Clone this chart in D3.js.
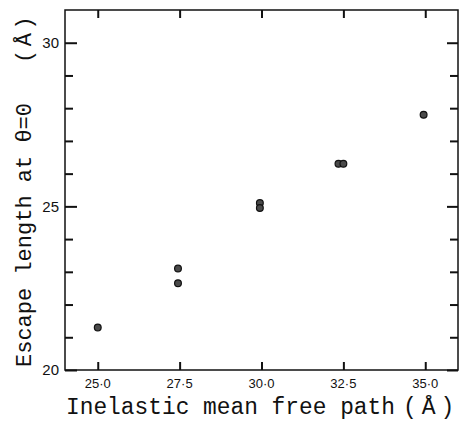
<!DOCTYPE html>
<html lang="en">
<head>
    <meta charset="UTF-8">
    <title>Escape length vs inelastic mean free path</title>
    <script src="https://cdnjs.cloudflare.com/ajax/libs/d3/7.8.5/d3.min.js"></script>
    <style>
        body {
            margin: 0;
            background-color: #ffffff;
            overflow: hidden;
        }
        .tick-label {
            font-family: 'Liberation Sans', Arial, sans-serif;
            fill: #111;
        }
        .axis-title {
            font-family: 'Liberation Mono', 'DejaVu Sans Mono', monospace;
            fill: #111;
        }
    </style>
</head>
<body>
    <div id="chart"></div>

    <script>
        // data
        const imfp = [25.0, 27.45, 27.45, 29.95, 29.95, 32.35, 32.5, 34.95];
        const escapeLength = [21.3, 23.1, 22.65, 25.1, 24.95, 26.3, 26.3, 27.8];

        const xTicks = [25, 27.5, 30, 32.5, 35];
        const xTickLabels = ["25·0", "27·5", "30·0", "32·5", "35·0"];
        const yMajorTicks = [20, 25, 30];
        const yMinorTicks = [21, 22, 23, 24, 26, 27, 28, 29];

        const width = 459, height = 425;
        const plotLeft = 65, plotRight = 458, plotTop = 10, plotBottom = 370;

        const svg = d3.select("#chart")
            .append("svg")
            .attr("width", width)
            .attr("height", height);

        const x = d3.scaleLinear().domain([24, 36]).range([plotLeft, plotRight]);
        const y = d3.scaleLinear().domain([20, 31]).range([plotBottom, plotTop]);

        // inward ticks via d3 axes (no domain line, no labels)
        function tickAxis(axis, tx, ty) {
            const g = svg.append("g")
                .attr("transform", `translate(${tx},${ty})`)
                .call(axis);
            g.select(".domain").remove();
            g.selectAll("text").remove();
            g.selectAll("line")
                .attr("stroke", "#111")
                .attr("stroke-width", 2);
            return g;
        }

        tickAxis(d3.axisBottom(x).tickValues(xTicks).tickSize(-8), 0, plotBottom);
        tickAxis(d3.axisTop(x).tickValues(xTicks).tickSize(-8), 0, plotTop);
        tickAxis(d3.axisLeft(y).tickValues(yMajorTicks).tickSize(-12), plotLeft, 0);
        tickAxis(d3.axisLeft(y).tickValues(yMinorTicks).tickSize(-8), plotLeft, 0);
        tickAxis(d3.axisRight(y).tickValues(yMajorTicks).tickSize(-11), plotRight, 0);
        tickAxis(d3.axisRight(y).tickValues(yMinorTicks).tickSize(-8), plotRight, 0);

        // frame
        svg.append("rect")
            .attr("x", plotLeft)
            .attr("y", plotTop)
            .attr("width", plotRight - plotLeft)
            .attr("height", plotBottom - plotTop)
            .attr("fill", "none")
            .attr("stroke", "#111")
            .attr("stroke-width", 1.5);

        // tick labels
        svg.selectAll(".xlab")
            .data(xTicks)
            .join("text")
            .attr("class", "tick-label xlab")
            .attr("x", d => x(d))
            .attr("y", 388)
            .attr("text-anchor", "middle")
            .attr("font-size", 13)
            .text((d, i) => xTickLabels[i]);

        svg.selectAll(".ylab")
            .data(yMajorTicks)
            .join("text")
            .attr("class", "tick-label ylab")
            .attr("x", 59)
            .attr("y", d => y(d))
            .attr("dy", "0.36em")
            .attr("text-anchor", "end")
            .attr("font-size", 15)
            .text(d => d);

        // axis titles
        svg.append("text")
            .attr("class", "axis-title")
            .attr("x", 66)
            .attr("y", 414)
            .attr("font-size", 23)
            .attr("textLength", 329)
            .attr("lengthAdjust", "spacingAndGlyphs")
            .text("Inelastic mean free path");

        svg.append("text")
            .attr("class", "axis-title")
            .attr("x", 403)
            .attr("y", 414)
            .attr("font-size", 23)
            .attr("letter-spacing", 5)
            .text("(Å)");

        svg.append("text")
            .attr("class", "axis-title")
            .attr("transform", "translate(31,367) rotate(-90)")
            .attr("font-size", 22)
            .attr("textLength", 264)
            .attr("lengthAdjust", "spacingAndGlyphs")
            .text("Escape length at θ=0");

        svg.append("text")
            .attr("class", "axis-title")
            .attr("transform", "translate(31,63) rotate(-90)")
            .attr("font-size", 22)
            .attr("letter-spacing", 3.5)
            .text("(Å)");

        // points
        svg.selectAll(".pt")
            .data(imfp.map((v, i) => ({ x: v, y: escapeLength[i] })))
            .join("circle")
            .attr("class", "pt")
            .attr("cx", d => x(d.x))
            .attr("cy", d => y(d.y))
            .attr("r", 3.4)
            .attr("fill", "#4a4a4a")
            .attr("stroke", "#111")
            .attr("stroke-width", 1.2);
    </script>
</body>
</html>
